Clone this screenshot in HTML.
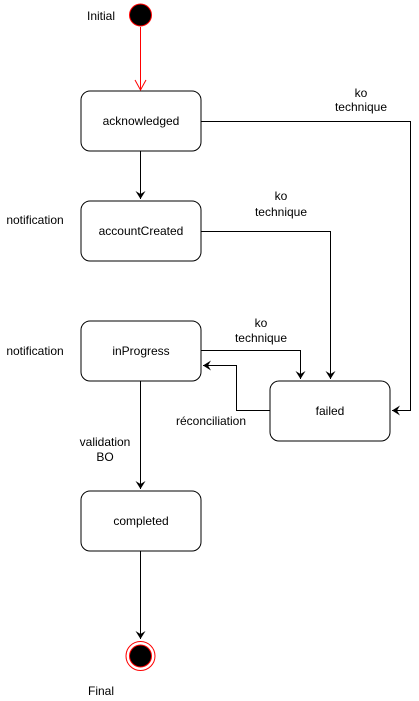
<!DOCTYPE html>
<html><head><meta charset="utf-8"><style>
html,body{margin:0;padding:0;background:#fff;width:419px;height:701px;overflow:hidden}
svg text{font-family:"Liberation Sans",Arial,sans-serif;font-size:12px;fill:#000}
</style></head><body>
<svg width="419" height="701" viewBox="0 0 419 701" xmlns="http://www.w3.org/2000/svg">
<defs>
<marker id="a" markerWidth="10" markerHeight="10" refX="8" refY="5" orient="auto" markerUnits="userSpaceOnUse">
<path d="M0,0 L8,5 L0,10 L3,5 z" fill="#000"/>
</marker>
</defs>
<g fill="none" stroke="#000" stroke-width="1">
<rect x="81" y="91" width="120" height="60" rx="9"/>
<rect x="81" y="201" width="120" height="60" rx="9"/>
<rect x="81" y="321" width="120" height="60" rx="9"/>
<rect x="81" y="491" width="120" height="60" rx="9"/>
<rect x="270" y="381" width="120" height="60" rx="9"/>
<path d="M140.5,151 V199" marker-end="url(#a)"/>
<path d="M201,121.5 H410.5 V410.5 H392" marker-end="url(#a)"/>
<path d="M201,231.5 H330.5 V379" marker-end="url(#a)"/>
<path d="M201,350.5 H300.5 V379" marker-end="url(#a)"/>
<path d="M270,410.5 H236.5 V365.5 H203" marker-end="url(#a)"/>
<path d="M140.5,381 V489" marker-end="url(#a)"/>
<path d="M140.5,551 V639" marker-end="url(#a)"/>
</g>
<circle cx="140.5" cy="15" r="11" fill="#000" stroke="#f00" stroke-width="1"/>
<path d="M140.5,27 V90" stroke="#f00" fill="none"/>
<path d="M135,80 L140.5,90 L146,80" stroke="#f00" fill="none"/>
<circle cx="140.5" cy="656" r="14.5" fill="#fff" stroke="#f00" stroke-width="1"/>
<circle cx="140.5" cy="656" r="11" fill="#000" stroke="#f00" stroke-width="1"/>
<g text-anchor="middle">
<text x="101" y="20">Initial</text>
<text x="101" y="695">Final</text>
<text x="141" y="125">acknowledged</text>
<text x="141" y="235">accountCreated</text>
<text x="141" y="355">inProgress</text>
<text x="141" y="525">completed</text>
<text x="330" y="415">failed</text>
<text x="35" y="224">notification</text>
<text x="35" y="355">notification</text>
<text x="361" y="97">ko</text>
<text x="361" y="111">technique</text>
<text x="281" y="200">ko</text>
<text x="281" y="216">technique</text>
<text x="261" y="327">ko</text>
<text x="261" y="342">technique</text>
<text x="211" y="425">réconciliation</text>
<text x="105" y="446">validation</text>
<text x="105" y="461">BO</text>
</g>
</svg>
</body></html>
